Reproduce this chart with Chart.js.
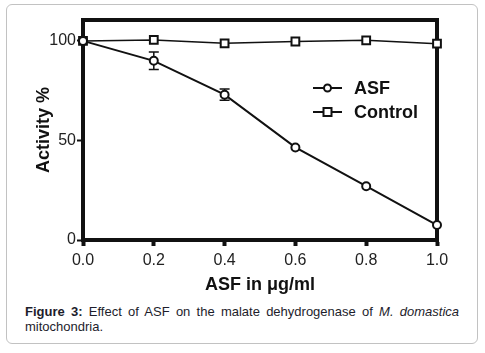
<!DOCTYPE html>
<html>
<head>
<meta charset="utf-8">
<script src="https://cdn.jsdelivr.net/npm/chart.js@4.4.1/dist/chart.umd.min.js"></script>
<style>
  body { margin: 0; background: #fff; }
  #wrap { position: relative; width: 485px; height: 353px; font-family: "Liberation Sans", Arial, sans-serif; }
  #frame { position: absolute; left: 6px; top: 4px; width: 470px; height: 338px; border: 1.5px solid #c2c2c2; border-radius: 6px; }
  #myChart { position: absolute; left: 0; top: 0; }
  #caption { position: absolute; left: 25px; top: 304px; width: 434px; font-size: 13px; line-height: 15px; color: #1d1d2b; text-align: justify; text-align-last: left; }
</style>
</head>
<body>
<div id="wrap">
  <div id="frame"></div>
  <canvas id="myChart" width="485" height="300"></canvas>
  <div id="caption"><b>Figure 3:</b> Effect of ASF on the malate dehydrogenase of <i>M. domastica</i> mitochondria.</div>
</div>
<script>
// data
const doses = [0, 0.2, 0.4, 0.6, 0.8, 1.0];
const asfActivity = [100, 90, 73, 46.5, 27, 7.5];
const asfError = [0, 4.4, 2.8, 0, 0, 0];
const controlActivity = [100, 100.5, 98.8, 99.7, 100.3, 98.6];
const yTicks = [0, 50, 100];

const toPoints = (xs, ys) => xs.map((x, i) => ({ x: x, y: ys[i] }));

// error bars drawn under the markers
const errorBars = {
  id: "errorBars",
  beforeDatasetsDraw(chart) {
    const ctx = chart.ctx;
    const xs = chart.scales.x;
    const ys = chart.scales.y;
    chart.data.datasets.forEach((ds) => {
      if (!ds.errors) return;
      ds.data.forEach((p, i) => {
        const e = ds.errors[i];
        if (!e) return;
        const px = xs.getPixelForValue(p.x);
        const top = ys.getPixelForValue(p.y + e);
        const bot = ys.getPixelForValue(p.y - e);
        ctx.save();
        ctx.strokeStyle = "#111";
        ctx.lineWidth = 1.5;
        ctx.beginPath();
        ctx.moveTo(px, top); ctx.lineTo(px, bot);
        ctx.moveTo(px - 5, top); ctx.lineTo(px + 5, top);
        ctx.moveTo(px - 5, bot); ctx.lineTo(px + 5, bot);
        ctx.stroke();
        ctx.restore();
      });
    });
  },
};

// top and right frame of the plot box
const boxFrame = {
  id: "boxFrame",
  beforeDatasetsDraw(chart) {
    const { ctx, chartArea: a } = chart;
    ctx.save();
    ctx.strokeStyle = "#111";
    ctx.lineWidth = 4;
    ctx.beginPath();
    ctx.moveTo(a.left - 2, a.top);
    ctx.lineTo(a.right, a.top);
    ctx.lineTo(a.right, a.bottom + 2);
    ctx.stroke();
    ctx.restore();
  },
};

// legend inside the plot, Prism style
const insideLegend = {
  id: "insideLegend",
  afterDraw(chart) {
    const ctx = chart.ctx;
    const rows = [88, 112];
    chart.data.datasets.forEach((ds, i) => {
      const y = rows[i];
      ctx.save();
      ctx.strokeStyle = "#111";
      ctx.lineWidth = 2;
      ctx.beginPath();
      ctx.moveTo(313, y); ctx.lineTo(342, y);
      ctx.stroke();
      ctx.fillStyle = "#fff";
      ctx.beginPath();
      if (ds.pointStyle === "circle") {
        ctx.arc(327.5, y, 3.5, 0, Math.PI * 2);
      } else {
        ctx.rect(323.5, y - 4, 8, 8);
      }
      ctx.fill();
      ctx.stroke();
      ctx.fillStyle = "#111";
      ctx.font = "bold 18px 'Liberation Sans', Arial, sans-serif";
      ctx.textBaseline = "middle";
      ctx.fillText(ds.label, 354, y + 1);
      ctx.restore();
    });
  },
};

const ctx = document.getElementById("myChart");

new Chart(ctx, {
  type: "line",
  data: {
    datasets: [
      {
        label: "ASF",
        data: toPoints(doses, asfActivity),
        errors: asfError,
        borderColor: "#111",
        borderWidth: 2,
        pointStyle: "circle",
        pointRadius: 4,
        pointBorderWidth: 2,
        pointBackgroundColor: "#fff",
        pointBorderColor: "#111",
        clip: false,
      },
      {
        label: "Control",
        data: toPoints(doses, controlActivity),
        borderColor: "#111",
        borderWidth: 1.5,
        pointStyle: "rect",
        pointRadius: 5.5,
        pointBorderWidth: 2,
        pointBackgroundColor: "#fff",
        pointBorderColor: "#111",
        clip: false,
      },
    ],
  },
  options: {
    responsive: false,
    animation: false,
    layout: { padding: { left: 0, right: 48, top: 20, bottom: 0 } },
    plugins: { legend: { display: false }, tooltip: { enabled: false } },
    scales: {
      x: {
        type: "linear",
        min: 0,
        max: 1,
        afterFit(scale) { scale.height = 60; },
        ticks: {
          stepSize: 0.2,
          padding: 5,
          color: "#222",
          font: { size: 16, family: "'Liberation Sans', Arial, sans-serif" },
          callback: (v) => v.toFixed(1),
        },
        grid: { drawOnChartArea: false, drawTicks: true, tickLength: 6, tickWidth: 4, tickColor: "#111" },
        border: { display: true, color: "#111", width: 4 },
        title: {
          display: true,
          text: "ASF in μg/ml",
          color: "#111",
          padding: { top: 0, bottom: 4 },
          font: { size: 18, weight: "bold", family: "'Liberation Sans', Arial, sans-serif" },
        },
      },
      y: {
        min: 0,
        max: 110.5,
        afterFit(scale) { scale.width = 83; },
        afterBuildTicks(scale) { scale.ticks = yTicks.map((v) => ({ value: v })); },
        ticks: {
          padding: 1,
          color: "#222",
          font: { size: 16, family: "'Liberation Sans', Arial, sans-serif" },
        },
        grid: { drawOnChartArea: false, drawTicks: true, tickLength: 6, tickWidth: 2, tickColor: "#111" },
        border: { display: true, color: "#111", width: 4 },
        title: {
          display: true,
          text: "Activity %",
          color: "#111",
          padding: { top: 33, bottom: 0 },
          font: { size: 18, weight: "bold", family: "'Liberation Sans', Arial, sans-serif" },
        },
      },
    },
  },
  plugins: [boxFrame, errorBars, insideLegend],
});
</script>
</body>
</html>
